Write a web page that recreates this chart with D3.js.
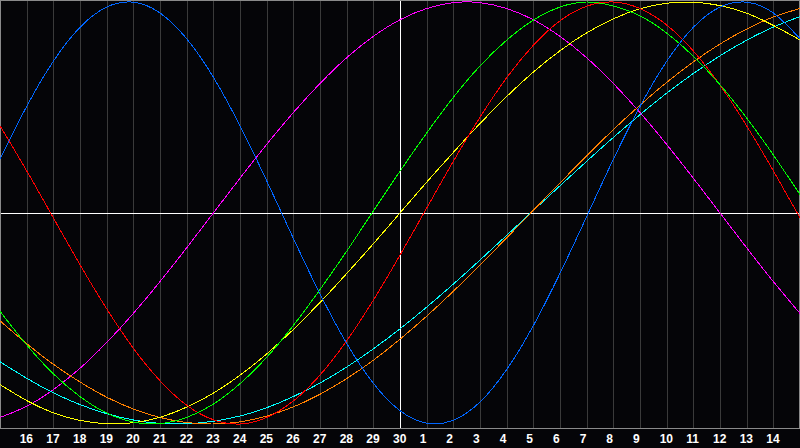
<!DOCTYPE html>
<html>
<head>
<meta charset="utf-8">
<script src="https://cdn.jsdelivr.net/npm/d3@7/dist/d3.min.js"></script>
<style>
html,body{margin:0;padding:0;background:#050508;}
svg{display:block;}
</style>
</head>
<body>
<svg id="chart" width="800" height="448"></svg>
<script>
// Day labels at grid positions 1..29 (position 0 and 30 = day 15, unlabeled)
const dayLabels = ["16","17","18","19","20","21","22","23","24","25","26","27","28","29","30",
  "1","2","3","4","5","6","7","8","9","10","11","12","13","14"];
const dayIndex = d3.range(0, 31);

// Series values per day (index 0..30), -1..1
const blue = [0.254,0.505,0.719,0.880,0.976,0.999,0.948,0.826,0.644,0.413,0.153,-0.120,-0.383,-0.618,-0.807,-0.937,-0.996,-0.982,-0.896,-0.742,-0.534,-0.286,-0.017,0.254,0.505,0.719,0.880,0.976,0.999,0.948,0.826];
const red = [0.413,0.200,-0.023,-0.245,-0.454,-0.641,-0.795,-0.911,-0.980,-1.000,-0.969,-0.891,-0.768,-0.606,-0.413,-0.200,0.023,0.245,0.454,0.641,0.795,0.911,0.980,1.000,0.969,0.891,0.768,0.606,0.413,0.200,-0.023];
const green = [-0.466,-0.625,-0.762,-0.870,-0.948,-0.991,-0.998,-0.969,-0.906,-0.809,-0.684,-0.533,-0.363,-0.181,0.009,0.198,0.379,0.548,0.697,0.819,0.914,0.976,1.000,0.981,0.934,0.853,0.743,0.608,0.450,0.275,0.087];
const magenta = [-0.969,-0.916,-0.837,-0.736,-0.614,-0.476,-0.325,-0.165,0.000,0.165,0.325,0.476,0.614,0.736,0.837,0.916,0.969,0.997,0.997,0.969,0.916,0.837,0.736,0.614,0.476,0.325,0.165,0.000,-0.165,-0.325,-0.476];
const yellow = [-0.813,-0.889,-0.947,-0.983,-0.999,-0.994,-0.968,-0.920,-0.854,-0.769,-0.668,-0.552,-0.424,-0.287,-0.146,0.000,0.146,0.287,0.424,0.552,0.668,0.769,0.854,0.920,0.968,0.994,0.999,0.983,0.947,0.889,0.820];
const orange = [-0.511,-0.619,-0.717,-0.801,-0.873,-0.929,-0.969,-0.993,-1.000,-0.990,-0.962,-0.919,-0.859,-0.785,-0.698,-0.598,-0.489,-0.371,-0.246,-0.118,0.013,0.143,0.271,0.395,0.511,0.619,0.716,0.801,0.872,0.929,0.969];
const cyan = [-0.705,-0.783,-0.852,-0.908,-0.951,-0.981,-0.997,-0.999,-0.987,-0.962,-0.923,-0.870,-0.806,-0.730,-0.644,-0.549,-0.446,-0.337,-0.223,-0.106,0.012,0.129,0.245,0.358,0.466,0.568,0.661,0.745,0.819,0.881,0.931];

const seriesList = [
  {values: magenta, color: "#ff00ff"},
  {values: cyan, color: "#00ffff"},
  {values: orange, color: "#ff8000"},
  {values: yellow, color: "#ffff00"},
  {values: red, color: "#ff0000"},
  {values: green, color: "#00ff00"},
  {values: blue, color: "#0066ff"}
];

const svg = d3.select("#chart");
const W = 800, plotBottom = 428;
const x = d3.scaleLinear().domain([0, 30]).range([0, W]);
const y = d3.scaleLinear().domain([-1, 1]).range([424, 2]);

svg.append("rect").attr("width", 800).attr("height", 448).attr("fill", "#050508");

// vertical grid lines
svg.append("g").selectAll("line")
  .data(d3.range(1, 30))
  .join("line")
  .attr("x1", d => Math.round(x(d)) + 0.5).attr("x2", d => Math.round(x(d)) + 0.5)
  .attr("y1", 1).attr("y2", plotBottom)
  .attr("stroke", "#3a3a3a").attr("stroke-width", 1)
  .attr("shape-rendering", "crispEdges");

// frame
svg.append("rect")
  .attr("x", 0.5).attr("y", 0.5).attr("width", 798.5).attr("height", plotBottom)
  .attr("fill", "none").attr("stroke", "#8a8a8a").attr("stroke-width", 1)
  .attr("shape-rendering", "crispEdges");

// center lines
svg.append("line")
  .attr("x1", 1).attr("x2", 799).attr("y1", Math.round(y(0)) + 0.5).attr("y2", Math.round(y(0)) + 0.5)
  .attr("stroke", "#ffffff").attr("shape-rendering", "crispEdges");
svg.append("line")
  .attr("x1", Math.round(x(15)) + 0.5).attr("x2", Math.round(x(15)) + 0.5).attr("y1", 1).attr("y2", plotBottom)
  .attr("stroke", "#ffffff").attr("shape-rendering", "crispEdges");

// curves
const line = d3.line()
  .x((d, i) => x(dayIndex[i]))
  .y(d => y(d))
  .curve(d3.curveNatural);

svg.append("g").selectAll("path")
  .data(seriesList)
  .join("path")
  .attr("d", s => line(s.values))
  .attr("fill", "none")
  .attr("stroke", s => s.color)
  .attr("stroke-width", 1)
  .attr("shape-rendering", "crispEdges");

// day labels
svg.append("g").selectAll("text")
  .data(dayLabels)
  .join("text")
  .attr("x", (d, i) => x(i + 1) - 7)
  .attr("y", 443)
  .attr("fill", "#ffffff")
  .attr("font-family", "Liberation Sans, Arial, sans-serif")
  .attr("font-weight", "bold")
  .attr("font-size", "12px")
  .text(d => d);
</script>
</body>
</html>
